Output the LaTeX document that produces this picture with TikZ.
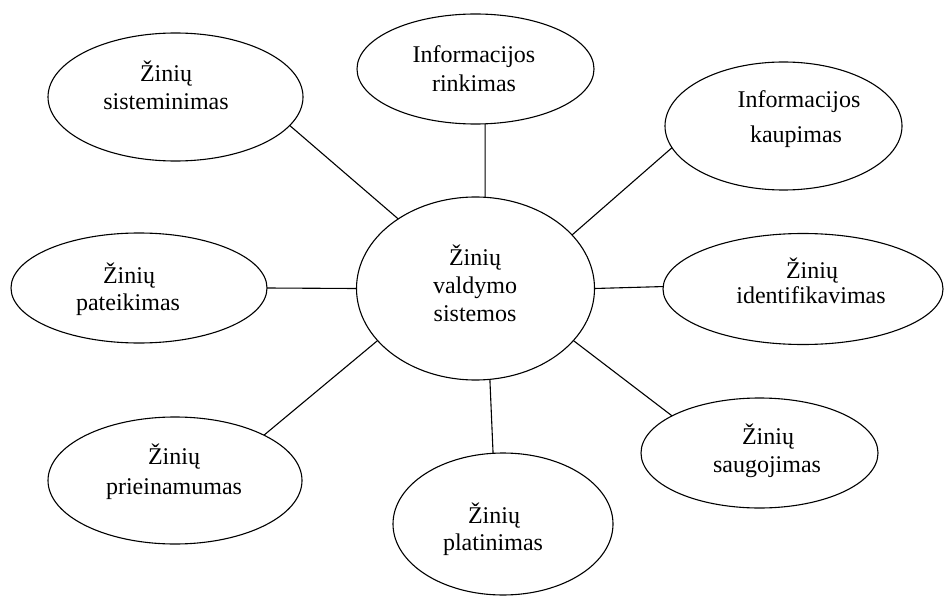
\documentclass[tikz,border=0pt]{standalone}
\usepackage{fontspec}
\setmainfont{Liberation Serif}
\usetikzlibrary{shapes.geometric}
\begin{document}
\begin{tikzpicture}[x=1pt,y=-1pt,
  bub/.style={draw, ellipse, line width=1.1pt, inner sep=0pt, outer sep=0pt},
  txt/.style={anchor=base, inner sep=0pt, font=\fontsize{24}{28}\selectfont},
  link/.style={line width=1.1pt}]
\useasboundingbox (0,0) rectangle (944,596);
% ellipses
\node[bub, minimum width=238pt, minimum height=183pt] (C) at (475.5,288.5) {};
\node[bub, minimum width=255pt, minimum height=128pt] (A) at (175.5,97) {};
\node[bub, minimum width=237pt, minimum height=110pt] (B) at (475.5,69) {};
\node[bub, minimum width=237pt, minimum height=128pt] (K) at (783.5,126) {};
\node[bub, minimum width=280pt, minimum height=111pt] (D) at (803,289) {};
\node[bub, minimum width=237pt, minimum height=110pt] (E) at (759.5,453) {};
\node[bub, minimum width=220pt, minimum height=142pt] (F) at (503,524) {};
\node[bub, minimum width=254pt, minimum height=127pt] (G) at (175,480.5) {};
\node[bub, minimum width=256pt, minimum height=110pt] (H) at (139,288) {};
% texts
\node[txt] (tC1) at (475,265) {Žinių};
\node[txt] (tC2) at (475,293) {valdymo};
\node[txt] (tC3) at (475,321) {sistemos};
\node[txt] (tA1) at (166,82) {Žinių};
\node[txt] (tA2) at (166,110) {sisteminimas};
\node[txt] (tB1) at (474,63) {Informacijos};
\node[txt] (tB2) at (474,92) {rinkimas};
\node[txt] (tK1) at (799,108) {Informacijos};
\node[txt] (tK2) at (796,143) {kaupimas};
\node[txt] (tD1) at (812,278) {Žinių};
\node[txt] (tD2) at (811,303) {identifikavimas};
\node[txt] (tE1) at (768,444) {Žinių};
\node[txt] (tE2) at (767,472) {saugojimas};
\node[txt] (tF1) at (494,523) {Žinių};
\node[txt] (tF2) at (493,550) {platinimas};
\node[txt] (tG1) at (174,464) {Žinių};
\node[txt] (tG2) at (174,494) {prieinamumas};
\node[txt] (tH1) at (129,283) {Žinių};
\node[txt] (tH2) at (128,310) {pateikimas};
% connectors
\draw[link] (A.-14) -- (C.138.3);
\draw[link] (B.-80.2) -- (C.84.1);
\draw[link] (K.191.5) -- (C.29.2);
\draw[link] (D.179.2) -- (C.0);
\draw[link] (E.157.5) -- (C.-28.7);
\draw[link] (F.98.8) -- (C.-81.6);
\draw[link] (G.27.1) -- (C.-152.2);
\draw[link] (H.0) -- (C.180);
\end{tikzpicture}
\end{document}
